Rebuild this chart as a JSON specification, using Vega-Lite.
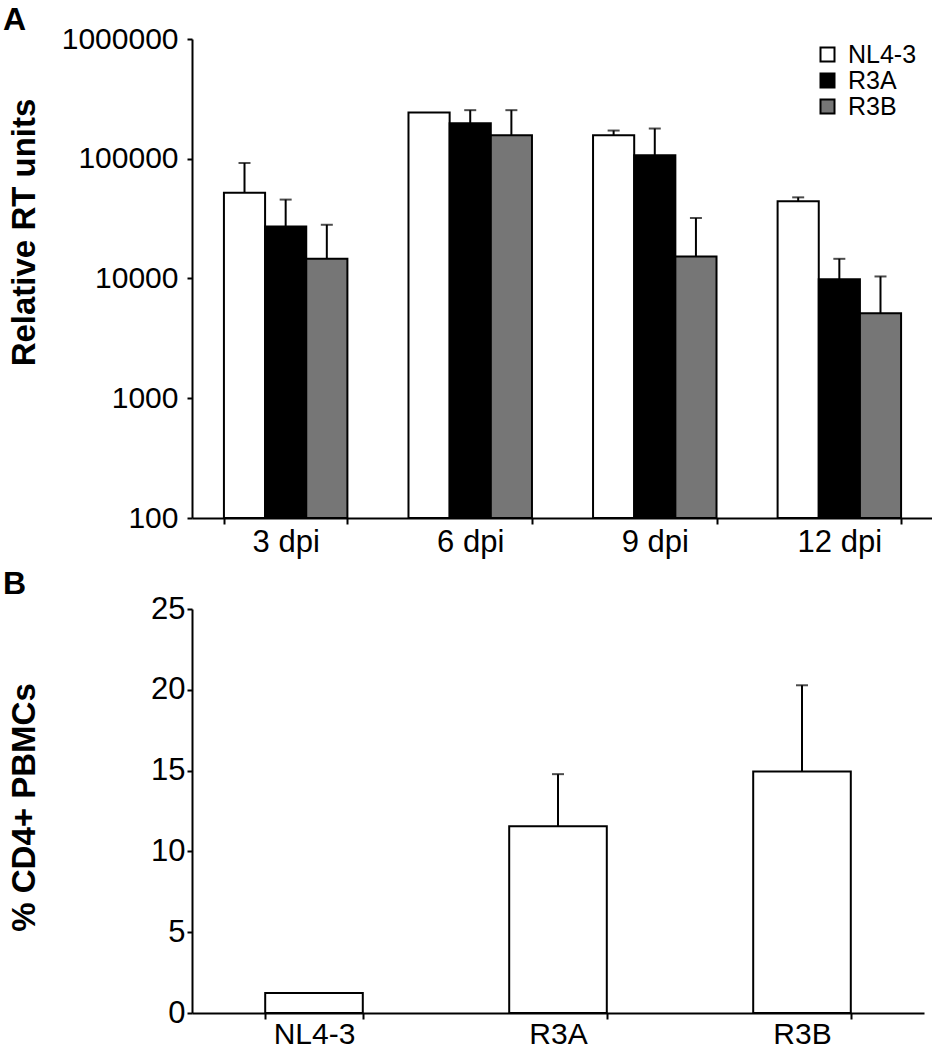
{
  "$schema": "https://vega.github.io/schema/vega-lite/v6.json",
  "padding": {"left": 2, "top": 4, "right": 0, "bottom": 0},
  "background": "white",
  "spacing": 11,
  "config": {
    "font": "Liberation Sans",
    "view": {"stroke": null},
    "axis": {
      "domainColor": "black", "domainWidth": 2, "tickColor": "black", "tickWidth": 2,
      "labelColor": "black", "titleColor": "black", "labelFont": "Liberation Sans",
      "titleFont": "Liberation Sans", "grid": false
    },
    "title": {"font": "Liberation Sans", "fontSize": 32, "fontWeight": "bold", "color": "black", "anchor": "start", "frame": "bounds"}
  },
  "datasets": {
    "rt": [
      {"day": "3 dpi", "virus": "NL4-3", "value": 52100, "err": 92200},
      {"day": "3 dpi", "virus": "R3A", "value": 27200, "err": 45600},
      {"day": "3 dpi", "virus": "R3B", "value": 14600, "err": 28100},
      {"day": "6 dpi", "virus": "NL4-3", "value": 243400, "err": null},
      {"day": "6 dpi", "virus": "R3A", "value": 198000, "err": 254500},
      {"day": "6 dpi", "virus": "R3B", "value": 157300, "err": 254500},
      {"day": "9 dpi", "virus": "NL4-3", "value": 157300, "err": 172000},
      {"day": "9 dpi", "virus": "R3A", "value": 107000, "err": 178800},
      {"day": "9 dpi", "virus": "R3B", "value": 15280, "err": 32000},
      {"day": "12 dpi", "virus": "NL4-3", "value": 44100, "err": 47600},
      {"day": "12 dpi", "virus": "R3A", "value": 9870, "err": 14600},
      {"day": "12 dpi", "virus": "R3B", "value": 5130, "err": 10400}
    ],
    "cd4": [
      {"strain": "NL4-3", "value": 1.24, "err": null},
      {"strain": "R3A", "value": 11.56, "err": 14.78},
      {"strain": "R3B", "value": 14.95, "err": 20.28}
    ]
  },
  "vconcat": [
    {
      "title": {"text": "A", "dx": -5, "offset": -13},
      "width": 741,
      "height": 479,
      "data": {"name": "rt"},
      "encoding": {
        "x": {
          "field": "day", "type": "nominal",
          "sort": ["3 dpi", "6 dpi", "9 dpi", "12 dpi"],
          "scale": {"paddingInner": 0.331, "paddingOuter": 0.173},
          "axis": {"title": null, "labelAngle": 0, "tickBand": "extent", "tickSize": 6, "labelFontSize": 31, "labelPadding": 3}
        },
        "xOffset": {
          "field": "virus", "type": "nominal",
          "sort": ["NL4-3", "R3A", "R3B"],
          "scale": {"paddingInner": 0, "paddingOuter": 0}
        }
      },
      "layer": [
        {
          "mark": {"type": "bar", "stroke": "black", "strokeWidth": 2},
          "encoding": {
            "y": {
              "field": "value", "type": "quantitative",
              "scale": {"type": "log", "domain": [100, 1000000], "nice": false},
              "axis": {
                "title": "Relative RT units", "titleFontSize": 33, "titleFontWeight": "bold",
                "values": [100, 1000, 10000, 100000, 1000000], "format": "d",
                "labelFontSize": 30, "tickSize": 5, "labelPadding": 9,
                "titleX": -158, "titleY": 193, "titleBaseline": "alphabetic", "titleAlign": "center", "titleAngle": -90
              }
            },
            "y2": {"datum": 100},
            "color": {
              "field": "virus", "type": "nominal",
              "scale": {"domain": ["NL4-3", "R3A", "R3B"], "range": ["white", "black", "#767676"]},
              "legend": {
                "title": null, "orient": "none", "legendX": 623, "legendY": 3, "padding": 0,
                "symbolType": "square", "symbolSize": 196, "symbolStrokeColor": "black", "symbolStrokeWidth": 2,
                "labelFontSize": 25, "labelColor": "black", "labelFont": "Liberation Sans", "rowPadding": 0, "labelOffset": 8
              }
            }
          }
        },
        {
          "transform": [{"filter": "datum.err != null"}],
          "mark": {"type": "rule", "strokeWidth": 2, "color": "black"},
          "encoding": {
            "y": {"field": "value", "type": "quantitative"},
            "y2": {"field": "err"}
          }
        },
        {
          "transform": [{"filter": "datum.err != null"}],
          "mark": {"type": "tick", "orient": "horizontal", "size": 12, "thickness": 2, "color": "black"},
          "encoding": {
            "y": {"field": "err", "type": "quantitative"}
          }
        }
      ]
    },
    {
      "title": {"text": "B", "dx": -5, "offset": -8},
      "width": 732,
      "height": 404,
      "data": {"name": "cd4"},
      "encoding": {
        "x": {
          "field": "strain", "type": "nominal",
          "sort": ["NL4-3", "R3A", "R3B"],
          "scale": {"paddingInner": 0.6, "paddingOuter": 0.3},
          "axis": {"title": null, "labelAngle": 0, "tickBand": "extent", "tickSize": 6, "labelFontSize": 30, "labelPadding": 0}
        }
      },
      "layer": [
        {
          "mark": {"type": "bar", "stroke": "black", "strokeWidth": 2, "fill": "white"},
          "encoding": {
            "y": {
              "field": "value", "type": "quantitative",
              "scale": {"domain": [0, 25], "nice": false},
              "axis": {
                "title": "% CD4+ PBMCs", "titleFontSize": 33, "titleFontWeight": "bold",
                "values": [0, 5, 10, 15, 20, 25],
                "labelFontSize": 31, "tickSize": 5, "labelPadding": 2,
                "titleX": -158, "titleY": 198, "titleBaseline": "alphabetic", "titleAlign": "center", "titleAngle": -90
              }
            }
          }
        },
        {
          "transform": [{"filter": "datum.err != null"}],
          "mark": {"type": "rule", "strokeWidth": 2, "color": "black"},
          "encoding": {
            "y": {"field": "value", "type": "quantitative"},
            "y2": {"field": "err"}
          }
        },
        {
          "transform": [{"filter": "datum.err != null"}],
          "mark": {"type": "tick", "orient": "horizontal", "size": 12, "thickness": 2, "color": "black"},
          "encoding": {
            "y": {"field": "err", "type": "quantitative"}
          }
        }
      ]
    }
  ]
}
